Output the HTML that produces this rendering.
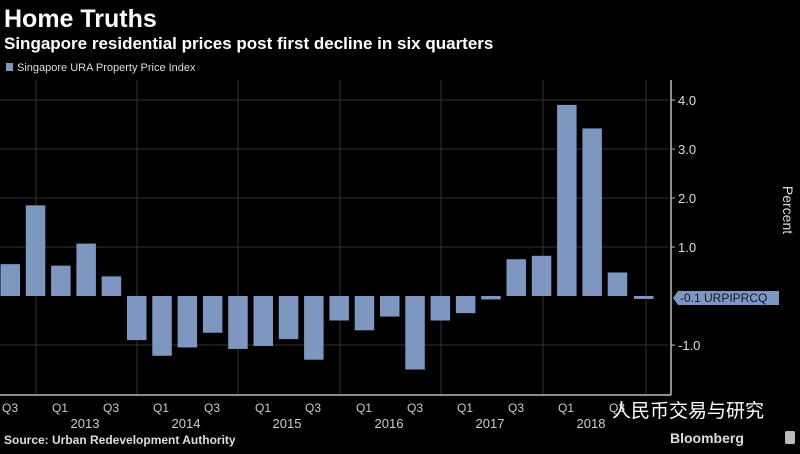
<!DOCTYPE html>
<html><head><style>
body{margin:0;background:#000;width:800px;height:449px;overflow:hidden;font-family:"Liberation Sans","Noto Sans CJK SC",sans-serif;color:#fff}
</style></head><body>
<svg width="800" height="449" xmlns="http://www.w3.org/2000/svg" font-family="Liberation Sans, Noto Sans CJK SC, sans-serif">
<rect width="800" height="449" fill="#000"/>
<text x="4" y="27" font-size="25" font-weight="bold" fill="#fff">Home Truths</text>
<text x="4" y="49" font-size="17" font-weight="bold" fill="#fff">Singapore residential prices post first decline in six quarters</text>
<rect x="6" y="63" width="7" height="8" fill="#7d97c0"/>
<text x="17" y="71" font-size="11" fill="#ddd">Singapore URA Property Price Index</text>
<g stroke="#333" stroke-width="1">
<line x1="0" y1="100" x2="668" y2="100"/><line x1="0" y1="149" x2="668" y2="149"/>
<line x1="0" y1="198" x2="668" y2="198"/><line x1="0" y1="247" x2="668" y2="247"/>
<line x1="0" y1="345" x2="668" y2="345"/>
<line x1="36" y1="80" x2="36" y2="395"/><line x1="137" y1="80" x2="137" y2="395"/>
<line x1="238" y1="80" x2="238" y2="395"/><line x1="340" y1="80" x2="340" y2="395"/>
<line x1="441" y1="80" x2="441" y2="395"/><line x1="543" y1="80" x2="543" y2="395"/>
<line x1="646" y1="80" x2="646" y2="395"/>
</g>
<g fill="#7d97c0">
<rect x="0.5" y="264.15" width="19.5" height="31.85"/>
<rect x="25.8" y="205.35" width="19.5" height="90.65"/>
<rect x="51.1" y="265.62" width="19.5" height="30.38"/>
<rect x="76.4" y="243.57" width="19.5" height="52.43"/>
<rect x="101.7" y="276.4" width="19.5" height="19.6"/>
<rect x="127" y="296" width="19.5" height="44.1"/>
<rect x="152.3" y="296" width="19.5" height="59.78"/>
<rect x="177.6" y="296" width="19.5" height="51.45"/>
<rect x="202.9" y="296" width="19.5" height="36.75"/>
<rect x="228.2" y="296" width="19.5" height="52.92"/>
<rect x="253.5" y="296" width="19.5" height="49.98"/>
<rect x="278.8" y="296" width="19.5" height="43.12"/>
<rect x="304.1" y="296" width="19.5" height="63.7"/>
<rect x="329.4" y="296" width="19.5" height="24.5"/>
<rect x="354.7" y="296" width="19.5" height="34.3"/>
<rect x="380" y="296" width="19.5" height="20.58"/>
<rect x="405.3" y="296" width="19.5" height="73.5"/>
<rect x="430.6" y="296" width="19.5" height="24.5"/>
<rect x="455.9" y="296" width="19.5" height="17.15"/>
<rect x="481.2" y="296" width="19.5" height="3.43"/>
<rect x="506.5" y="259.25" width="19.5" height="36.75"/>
<rect x="531.8" y="255.82" width="19.5" height="40.18"/>
<rect x="557.1" y="104.9" width="19.5" height="191.1"/>
<rect x="582.4" y="128.42" width="19.5" height="167.58"/>
<rect x="607.7" y="272.48" width="19.5" height="23.52"/>
<rect x="634" y="296" width="19.5" height="2.94"/>
</g>
<line x1="0" y1="395" x2="671" y2="395" stroke="#bbb" stroke-width="1.5"/>
<line x1="671" y1="80" x2="671" y2="395" stroke="#bbb" stroke-width="1.5"/>
<g font-size="13" fill="#ddd">
<text x="678" y="105">4.0</text><text x="678" y="154">3.0</text><text x="678" y="203">2.0</text>
<text x="678" y="252">1.0</text><text x="678" y="350">-1.0</text>
</g>
<g stroke="#bbb"><line x1="671" y1="100" x2="675" y2="100"/><line x1="671" y1="149" x2="675" y2="149"/><line x1="671" y1="198" x2="675" y2="198"/><line x1="671" y1="247" x2="675" y2="247"/><line x1="671" y1="345" x2="675" y2="345"/></g>
<polygon points="673,298 678,291 779,291 779,305 678,305" fill="#7d97c0"/>
<text x="680" y="302" font-size="12" fill="#0b1a33">-0.1 URPIPRCQ</text>
<text transform="translate(783,210) rotate(90)" x="0" y="0" font-size="14" fill="#ddd" text-anchor="middle">Percent</text>
<g font-size="12" fill="#ccc" text-anchor="middle">
<text x="10" y="412">Q3</text><text x="60" y="412">Q1</text><text x="111" y="412">Q3</text>
<text x="161" y="412">Q1</text><text x="212" y="412">Q3</text><text x="263" y="412">Q1</text><text x="313" y="412">Q3</text>
<text x="364" y="412">Q1</text><text x="415" y="412">Q3</text><text x="465" y="412">Q1</text><text x="516" y="412">Q3</text>
<text x="566" y="412">Q1</text><text x="617" y="412">Q3</text>
</g>
<g font-size="13" fill="#ccc" text-anchor="middle">
<text x="85" y="428">2013</text><text x="186" y="428">2014</text><text x="287" y="428">2015</text>
<text x="389" y="428">2016</text><text x="490" y="428">2017</text><text x="591" y="428">2018</text>
</g>
<text x="612" y="417" font-size="19" fill="#fff">人民币交易与研究</text>
<text x="4" y="444" font-size="12" font-weight="bold" fill="#ddd">Source: Urban Redevelopment Authority</text>
<text x="670" y="443" font-size="14" font-weight="bold" fill="#ddd">Bloomberg</text>
<rect x="785" y="431" width="10" height="13" rx="2" fill="#bbb"/>
</svg>
</body></html>
